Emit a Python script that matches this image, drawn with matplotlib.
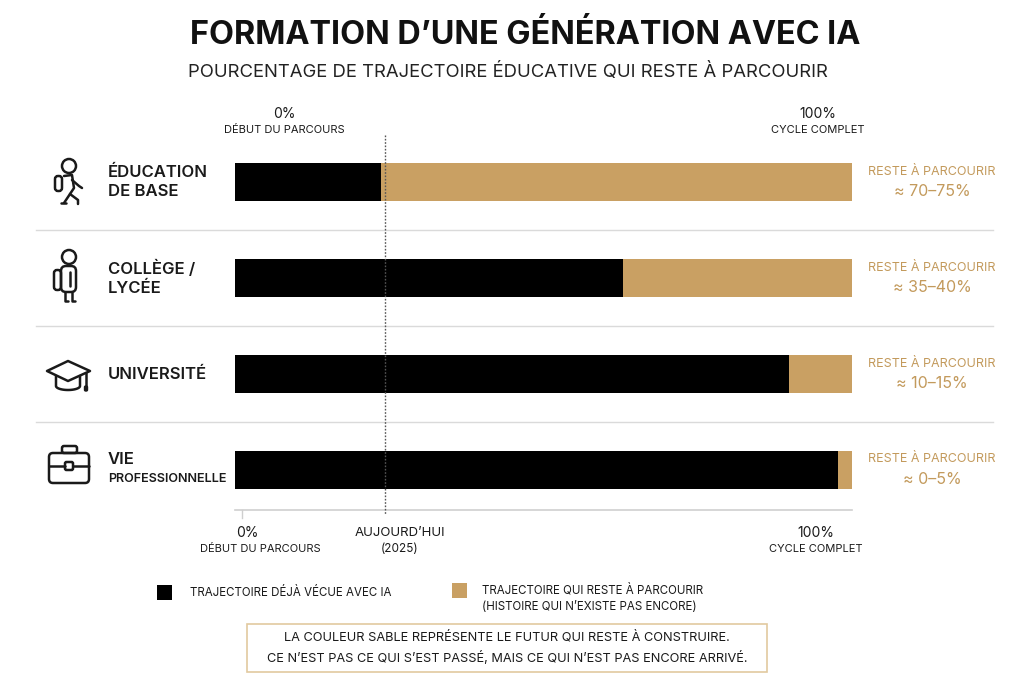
import matplotlib.pyplot as plt
from matplotlib.patches import FancyBboxPatch, Circle, Polygon, Rectangle
import numpy as np

plt.rcParams['font.family'] = ['Inter', 'DejaVu Sans']

# data
categories = ["ÉDUCATION\nDE BASE", "COLLÈGE /\nLYCÉE", "UNIVERSITÉ", "VIE\nPROFESSIONNELLE"]
lived = [23.7, 62.9, 89.8, 97.7]          # % of trajectory already lived with AI
remaining_labels = ["≈ 70–75%", "≈ 35–40%", "≈ 10–15%", "≈ 0–5%"]
today_pos = 24.3                          # "aujourd'hui (2025)" marker

BLACK = '#000000'
SAND = '#C9A063'
SAND_TXT = '#C39A5C'
GRID = '#DADADA'
TXT = '#1A1A1A'

W, H = 1024, 683
fig = plt.figure(figsize=(W / 100, H / 100), dpi=100)
fig.patch.set_facecolor('white')

# overlay axes in pixel coordinates for text and icons
ov = fig.add_axes([0, 0, 1, 1])
ov.set_xlim(0, W)
ov.set_ylim(H, 0)
ov.axis('off')

# bar axes: one row = 96 px, row 0 centred 48 px below the top
x0, x1, ytop, ybot = 235, 852, 134, 517
ax = fig.add_axes([x0 / W, 1 - ybot / H, (x1 - x0) / W, (ybot - ytop) / H])
ax.set_facecolor('none')
ax.set_xlim(0, 100)
ax.set_ylim((ybot - ytop) / 96 - 0.5, -0.5)
ax.axis('off')

y = np.arange(len(categories))
remaining = [100 - v for v in lived]
ax.barh(y, lived, height=0.4, color=BLACK, zorder=3)
ax.barh(y, remaining, left=lived, height=0.4, color=SAND, zorder=3)

# row separators (extend past the bars)
xl = (36 - x0) / (x1 - x0) * 100
xr = (993 - x0) / (x1 - x0) * 100
for s in [0.5, 1.5, 2.5]:
    ax.plot([xl, xr], [s, s], color=GRID, lw=1, clip_on=False, zorder=1)

# bottom scale line and tick
ax.plot([0, 100], [3.42, 3.42], color='#CFCFCF', lw=1.2, clip_on=False)
ax.plot([1.2, 1.2], [3.42, 3.5], color='#CFCFCF', lw=1, clip_on=False)

# today dotted line
ax.plot([today_pos, today_pos], [-0.49, 3.47], color='#555555', lw=1,
        ls=(0, (1.2, 1.2)), clip_on=False, zorder=4)

# titles
ov.text(525, 36, "FORMATION D’UNE GÉNÉRATION AVEC IA", ha='center', va='center',
        fontsize=23.3, fontweight='bold', color='#111111')
ov.text(508, 72, "POURCENTAGE DE TRAJECTOIRE ÉDUCATIVE QUI RESTE À PARCOURIR",
        ha='center', va='center', fontsize=13.3, color='#222222')

# top scale labels
ov.text(284, 114, "0%", ha='center', va='center', fontsize=10, color=TXT)
ov.text(284, 130, "DÉBUT DU PARCOURS", ha='center', va='center', fontsize=8, color=TXT)
ov.text(818, 114, "100%", ha='center', va='center', fontsize=10, color=TXT)
ov.text(818, 130, "CYCLE COMPLET", ha='center', va='center', fontsize=8, color=TXT)

# bottom scale labels
ov.text(247, 533, "0%", ha='center', va='center', fontsize=10, color=TXT)
ov.text(260, 549, "DÉBUT DU PARCOURS", ha='center', va='center', fontsize=8, color=TXT)
ov.text(400, 533, "AUJOURD’HUI", ha='center', va='center', fontsize=9.5, color=TXT)
ov.text(400, 549, "(2025)", ha='center', va='center', fontsize=8.5, color=TXT)
ov.text(816, 533, "100%", ha='center', va='center', fontsize=10, color=TXT)
ov.text(816, 549, "CYCLE COMPLET", ha='center', va='center', fontsize=8, color=TXT)

# row labels
row_y = [182, 278, 374, 469]
for i, (lab, rl) in enumerate(zip(categories, remaining_labels)):
    lines = lab.split('\n')
    if len(lines) == 1:
        ov.text(108, row_y[i], lines[0], ha='left', va='center', fontsize=12,
                fontweight='semibold', color=TXT)
    else:
        for k, line in enumerate(lines):
            fs = 9.1 if len(line) > 12 else 12
            ov.text(108, row_y[i] + (k - 0.5) * 20, line, ha='left', va='center',
                    fontsize=fs, fontweight='semibold', color=TXT)
    ov.text(932, row_y[i] - 10, "RESTE À PARCOURIR", ha='center', va='center',
            fontsize=9, color=SAND_TXT)
    ov.text(932, row_y[i] + 10, rl, ha='center', va='center',
            fontsize=11.5, color=SAND_TXT)

# icons
lw = 1.8
ic = dict(color=TXT, lw=lw, solid_capstyle='round', solid_joinstyle='round')
# walking child
ov.add_patch(Circle((69, 166), 7, fill=False, ec=TXT, lw=lw))
ov.add_patch(FancyBboxPatch((55, 176), 7, 15, boxstyle='round,pad=0,rounding_size=3',
                            fill=False, ec=TXT, lw=lw))
ov.plot([64, 72, 74, 70, 64], [176, 175, 188, 194, 203], **ic)
ov.plot([70, 78, 78], [194, 200, 204], **ic)
ov.plot([72, 79, 82], [180, 186, 188], **ic)
ov.plot([61, 66], [203, 203], **ic)
# standing child
ov.add_patch(Circle((69, 257), 7, fill=False, ec=TXT, lw=lw))
ov.add_patch(FancyBboxPatch((54, 270), 7, 20, boxstyle='round,pad=0,rounding_size=3',
                            fill=False, ec=TXT, lw=lw))
ov.add_patch(FancyBboxPatch((61, 266), 15, 26, boxstyle='round,pad=0,rounding_size=5',
                            fill=False, ec=TXT, lw=lw))
ov.plot([65, 65, 68], [292, 301, 301], **ic)
ov.plot([72, 72, 75], [292, 301, 301], **ic)
ov.plot([70, 70], [272, 286], **ic)
# graduation cap
ov.add_patch(Polygon([(47, 371), (68, 361), (90, 371), (68, 381)], closed=True,
                     fill=False, ec=TXT, lw=lw, joinstyle='round'))
t = np.linspace(0, np.pi, 30)
ov.plot(np.r_[56, 56, 68 - 12 * np.cos(t), 80, 80],
        np.r_[376, 386, 386 + 4 * np.sin(t), 386, 376], **ic)
ov.plot([86, 86], [373, 386], **ic)
ov.add_patch(FancyBboxPatch((84.5, 386), 3, 5, boxstyle='round,pad=0,rounding_size=1.2',
                            fc=TXT, ec=TXT, lw=1))
# briefcase
ov.add_patch(FancyBboxPatch((49, 453), 40, 30, boxstyle='round,pad=0,rounding_size=4',
                            fill=False, ec=TXT, lw=lw))
ov.add_patch(FancyBboxPatch((62, 446), 15, 7, boxstyle='round,pad=0,rounding_size=2',
                            fill=False, ec=TXT, lw=lw))
ov.plot([49, 65], [466, 466], **ic)
ov.plot([73, 89], [466, 466], **ic)
ov.add_patch(FancyBboxPatch((65, 462), 8, 8, boxstyle='round,pad=0,rounding_size=1.5',
                            fill=False, ec=TXT, lw=lw))

# legend
ov.add_patch(Rectangle((157, 585), 15, 15, fc=BLACK, ec='none'))
ov.text(190, 593, "TRAJECTOIRE DÉJÀ VÉCUE AVEC IA", ha='left', va='center',
        fontsize=8.3, color=TXT)
ov.add_patch(Rectangle((452, 583), 15, 15, fc=SAND, ec='none'))
ov.text(482, 598, "TRAJECTOIRE QUI RESTE À PARCOURIR\n(HISTOIRE QUI N’EXISTE PAS ENCORE)",
        ha='left', va='center', fontsize=8.3, color=TXT, linespacing=1.5)

# note box
ov.add_patch(Rectangle((247, 624), 520, 48, fill=False, ec='#E2C9A0', lw=1.2))
ov.text(507, 648, "LA COULEUR SABLE REPRÉSENTE LE FUTUR QUI RESTE À CONSTRUIRE.\n"
        "CE N’EST PAS CE QUI S’EST PASSÉ, MAIS CE QUI N’EST PAS ENCORE ARRIVÉ.",
        ha='center', va='center', fontsize=9.2, color=TXT, linespacing=1.6)

fig.savefig('out.png', dpi=100, facecolor='white')
